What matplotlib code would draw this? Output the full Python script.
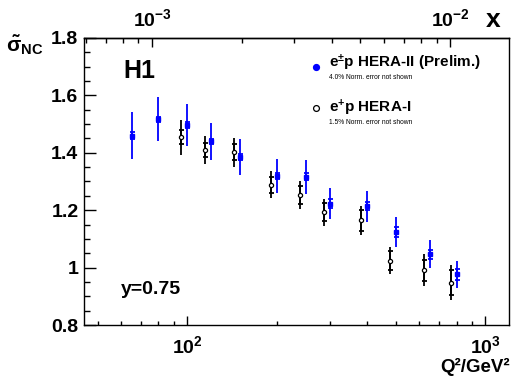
import matplotlib
matplotlib.use("Agg")
import matplotlib.pyplot as plt
from matplotlib.ticker import FixedLocator, FixedFormatter, NullFormatter, LogLocator, MultipleLocator

plt.rcParams.update({
    'font.family': ['Liberation Sans', 'DejaVu Sans'],
    'font.weight': 'bold',
    'mathtext.fontset': 'custom',
    'mathtext.rm': 'Liberation Sans:bold',
    'mathtext.bf': 'Liberation Sans:bold',
    'mathtext.it': 'Liberation Sans:bold:italic',
    'mathtext.default': 'bf',
})

# HERA-II (e+-p, preliminary) reduced NC cross section at y = 0.75
q2_hera2 = [65, 80, 100, 120, 150, 200, 250, 300, 400, 500, 650, 800]
sig_hera2 = [1.460, 1.517, 1.498, 1.440, 1.385, 1.319, 1.316, 1.223, 1.213, 1.124, 1.046, 0.976]
stat_hera2 = [0.012, 0.009, 0.010, 0.008, 0.010, 0.010, 0.012, 0.015, 0.014, 0.016, 0.016, 0.019]
tot_hera2 = [0.083, 0.077, 0.073, 0.065, 0.063, 0.060, 0.060, 0.054, 0.054, 0.052, 0.049, 0.048]

# HERA-I (e+p)
q2_hera1 = [100, 120, 150, 200, 250, 300, 400, 500, 650, 800]
sig_hera1 = [1.455, 1.409, 1.402, 1.288, 1.253, 1.193, 1.165, 1.024, 0.991, 0.948]
stat_hera1 = [0.025, 0.025, 0.028, 0.027, 0.032, 0.032, 0.036, 0.033, 0.037, 0.044]
tot_hera1 = [0.061, 0.049, 0.050, 0.047, 0.049, 0.047, 0.050, 0.048, 0.055, 0.061]

s_cm = 101570.0   # GeV^2
y_val = 0.75
shift = 0.955     # HERA-I points drawn slightly left for visibility

fig = plt.figure(figsize=(5.21, 3.85), dpi=100)
ax = fig.add_axes([84 / 521, 1 - 325 / 385, 425 / 521, 287 / 385])
ax.set_xscale('log')
ax.set_xlim(45, 1200)
ax.set_ylim(0.8, 1.8)

q2_h1_shifted = [q * shift for q in q2_hera1]

# HERA-I: total and stat errors
ax.errorbar(q2_h1_shifted, sig_hera1, yerr=tot_hera1, fmt='none', ecolor='black',
            elinewidth=1.3, capsize=0)
ax.errorbar(q2_h1_shifted, sig_hera1, yerr=stat_hera1, fmt='none', ecolor='black',
            elinewidth=1.3, capsize=1.8, capthick=1.3)
ax.plot(q2_h1_shifted, sig_hera1, 'o', ms=3.0, mfc='white', mec='black', mew=0.9, zorder=5)

# HERA-II
ax.errorbar(q2_hera2, sig_hera2, yerr=tot_hera2, fmt='none', ecolor='#0000ff',
            elinewidth=1.3, capsize=0)
ax.errorbar(q2_hera2, sig_hera2, yerr=stat_hera2, fmt='none', ecolor='#0000ff',
            elinewidth=1.3, capsize=1.8, capthick=1.3)
ax.plot(q2_hera2, sig_hera2, 's', ms=2.8, color='#0000ff', zorder=5)

for sp in ax.spines.values():
    sp.set_linewidth(1.0)

# y axis ticks
ax.yaxis.set_major_locator(FixedLocator([0.8, 1.0, 1.2, 1.4, 1.6, 1.8]))
ax.yaxis.set_major_formatter(FixedFormatter(['0.8', '1', '1.2', '1.4', '1.6', '1.8']))
ax.yaxis.set_minor_locator(MultipleLocator(0.05))
ax.tick_params(axis='y', which='major', direction='in', length=8.6, width=1.0, pad=4, labelsize=14)
ax.tick_params(axis='y', which='minor', direction='in', length=4.3, width=1.0)

# bottom x axis
ax.xaxis.set_major_locator(FixedLocator([100, 1000]))
ax.xaxis.set_major_formatter(FixedFormatter(['$10^{2}$', '$10^{3}$']))
ax.xaxis.set_minor_locator(LogLocator(base=10, subs=range(2, 10)))
ax.xaxis.set_minor_formatter(NullFormatter())
ax.tick_params(axis='x', which='major', direction='in', length=6.7, width=1.0, pad=7, labelsize=14)
ax.tick_params(axis='x', which='minor', direction='in', length=3.0, width=1.0)

# top axis in Bjorken x
sec = ax.secondary_xaxis('top', functions=(lambda q: q / (s_cm * y_val),
                                           lambda x: x * s_cm * y_val))
sec.xaxis.set_major_locator(FixedLocator([1e-3, 1e-2]))
sec.xaxis.set_major_formatter(FixedFormatter(['$10^{-3}$', '$10^{-2}$']))
sec.xaxis.set_minor_locator(LogLocator(base=10, subs=range(2, 10)))
sec.xaxis.set_minor_formatter(NullFormatter())
sec.tick_params(axis='x', which='major', direction='in', length=6.5, width=1.0, pad=6, labelsize=14)
sec.tick_params(axis='x', which='minor', direction='in', length=3.6, width=1.0)
sec.spines['top'].set_linewidth(1.0)

# labels
fig.text(0.012, 1 - 45 / 385, r'$\tilde{\sigma}_{NC}$', fontsize=15, va='center', ha='left')
fig.text(500 / 521, 1 - 20 / 385, 'x', fontsize=19, ha='right', va='center')
fig.text(510 / 521, 1 - 376 / 385, 'Q²/GeV²', fontsize=13.5, ha='right', va='bottom')

ax.text(0.0925, 0.884, 'H1', transform=ax.transAxes, fontsize=18, va='center', ha='left')
ax.text(0.087, 0.125, 'y=0.75', transform=ax.transAxes, fontsize=14, va='center', ha='left')

# legend
ax.plot([0.545], [0.900], 'o', ms=4.2, color='#0000ff', transform=ax.transAxes)
ax.plot([0.545], [0.755], 'o', ms=4.2, mfc='white', mec='black', mew=0.9, transform=ax.transAxes)
ax.text(0.576, 0.915, 'e$^{\\pm}$p HERA-II (Prelim.)', transform=ax.transAxes,
        fontsize=11, va='center', ha='left')
ax.text(0.576, 0.862, '4.0% Norm. error not shown', transform=ax.transAxes,
        fontsize=4.8, fontweight='normal', va='center', ha='left')
ax.text(0.576, 0.755, 'e$^{+}$p HERA-I', transform=ax.transAxes,
        fontsize=11, va='center', ha='left')
ax.text(0.576, 0.706, '1.5% Norm. error not shown', transform=ax.transAxes,
        fontsize=4.8, fontweight='normal', va='center', ha='left')

fig.savefig('out.png', dpi=100)
